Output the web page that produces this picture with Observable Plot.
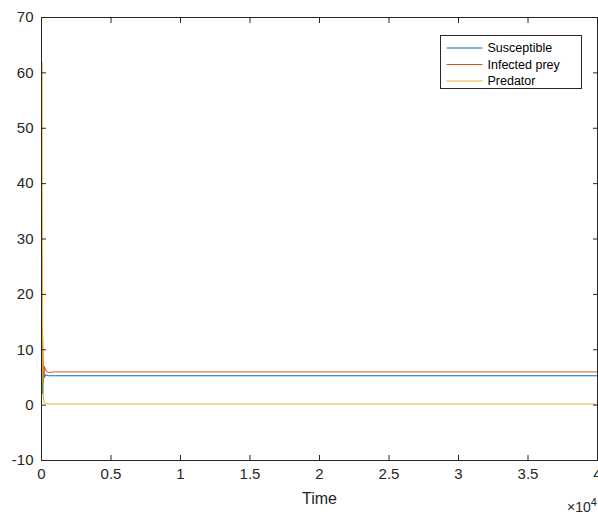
<!DOCTYPE html>
<html>
<head>
<meta charset="utf-8">
<script src="https://cdn.jsdelivr.net/npm/d3@7"></script>
<script src="https://cdn.jsdelivr.net/npm/@observablehq/plot@0.6"></script>
<style>
  html, body { margin: 0; padding: 0; background: #fff; }
  #chart svg { display: block; font-family: "Liberation Sans", Arial, Helvetica, sans-serif; }
</style>
</head>
<body>
<div id="chart"></div>
<script>
// Data
const time        = [0, 30, 60, 90, 120, 160, 220, 300, 500, 1000, 40000];
const susceptible = [20, 8, 3, 2, 4, 6, 5, 5.5, 5.3, 5.3, 5.3];
const infected    = [10, 4, 14, 11, 8, 5, 7, 6.2, 5.9, 6.0, 6.0];
const predator    = [38, 62, 30, 8, 2, 0.8, 0.4, 0.3, 0.2, 0.2, 0.2];

const seriesNames  = ["Susceptible", "Infected prey", "Predator"];
const seriesColors = ["#0072BD", "#D95319", "#EDB120"];
const xTicks = [0, 5000, 10000, 15000, 20000, 25000, 30000, 35000, 40000];
const xTickLabels = ["0", "0.5", "1", "1.5", "2", "2.5", "3", "3.5", "4"];
const yTicks = [-10, 0, 10, 20, 30, 40, 50, 60, 70];

const rows = [];
[susceptible, infected, predator].forEach((vals, k) => {
  vals.forEach((v, i) => rows.push({t: time[i], v, s: seriesNames[k]}));
});

const axisColor = "#262626";
const chart = Plot.plot({
  width: 598,
  height: 515,
  marginLeft: 41,
  marginRight: 1,
  marginTop: 17,
  marginBottom: 55,
  style: {fontFamily: '"Liberation Sans", Arial, Helvetica, sans-serif', color: axisColor, background: "#fff"},
  x: {domain: [0, 40000]},
  y: {domain: [-10, 70]},
  color: {domain: seriesNames, range: seriesColors},
  marks: [
    Plot.line(rows, {x: "t", y: "v", z: "s", stroke: "s", strokeWidth: 1}),
    Plot.frame({stroke: axisColor, strokeWidth: 1}),
    Plot.axisX({ticks: xTicks, tickSize: -5, tickPadding: 13, tickFormat: (d) => xTickLabels[xTicks.indexOf(d)], fontSize: 15, label: null}),
    Plot.axisX({anchor: "top", ticks: xTicks, tickSize: -5, tickFormat: () => "", label: null}),
    Plot.axisY({ticks: yTicks, tickSize: -5, tickPadding: 13, fontSize: 15, label: null, tickFormat: d => d < 0 ? "-" + Math.abs(d) : String(d)}),
    Plot.axisY({anchor: "right", ticks: yTicks, tickSize: -5, tickFormat: () => "", label: null}),
    Plot.text(["Time"], {frameAnchor: "bottom", dy: 43, fontSize: 16, fill: axisColor})
  ]
});

document.getElementById("chart").appendChild(chart);

const svg = d3.select(chart);
// ×10^4 exponent label
const ex = svg.append("text")
  .attr("x", 567).attr("y", 512)
  .attr("text-anchor", "start")
  .attr("font-size", 14).attr("fill", axisColor)
  .attr("font-family", '"Liberation Sans", Arial, sans-serif');
ex.append("tspan").text("×10");
ex.append("tspan").attr("dy", -6).attr("font-size", 11).text("4");

// Legend
const lg = svg.append("g").attr("transform", "translate(440.5,35.5)");
lg.append("rect").attr("width", 141).attr("height", 53)
  .attr("fill", "#fff").attr("stroke", axisColor).attr("stroke-width", 1);
seriesNames.forEach((name, i) => {
  const y = 12.5 + i * 16.5;
  lg.append("line").attr("x1", 6).attr("x2", 42).attr("y1", y).attr("y2", y)
    .attr("stroke", seriesColors[i]).attr("stroke-width", 1);
  lg.append("text").attr("x", 47).attr("y", y).attr("dy", "0.35em")
    .attr("text-anchor", "start")
    .attr("font-size", 12.5).attr("fill", "#000")
    .attr("font-family", '"Liberation Sans", Arial, sans-serif')
    .text(name);
});
</script>
</body>
</html>
